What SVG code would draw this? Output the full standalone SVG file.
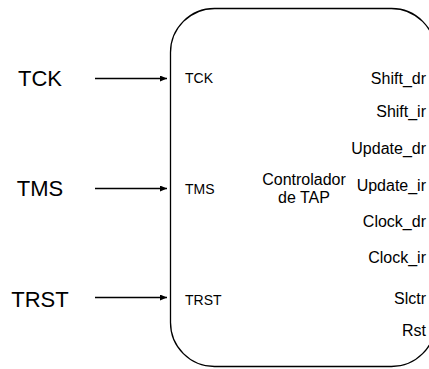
<svg xmlns="http://www.w3.org/2000/svg" width="429" height="369" viewBox="0 0 429 369">
  <style>
    text { font-family: "Liberation Sans", Arial, sans-serif; fill: #000; }
    .big { font-size: 22px; text-anchor: middle; }
    .port { font-size: 14px; }
    .out { font-size: 16px; text-anchor: end; }
    .title { font-size: 16px; text-anchor: middle; }
    .wire { stroke: #000; stroke-width: 1.3; fill: none; marker-end: url(#arrow); }
    .block { fill: #fff; stroke: #000; stroke-width: 1.3; }
  </style>
  <defs>
    <marker id="arrow" markerWidth="8" markerHeight="6" refX="7" refY="3" orient="auto" markerUnits="userSpaceOnUse">
      <path d="M0,0 L7,3 L0,6 Z" fill="#000"/>
    </marker>
  </defs>

  <!-- TAP controller block -->
  <g id="tap-controller">
    <rect class="block" x="170.5" y="8.5" width="265" height="358" rx="44" ry="44"/>
    <text class="title" x="304" y="185">Controlador</text>
    <text class="title" x="304" y="203">de TAP</text>
    <text class="port" x="185" y="83">TCK</text>
    <text class="port" x="185" y="193.5">TMS</text>
    <text class="port" x="185" y="305">TRST</text>
    <text class="out" x="426" y="84">Shift_dr</text>
    <text class="out" x="426" y="117">Shift_ir</text>
    <text class="out" x="426" y="154">Update_dr</text>
    <text class="out" x="426" y="191">Update_ir</text>
    <text class="out" x="426" y="227">Clock_dr</text>
    <text class="out" x="426" y="263">Clock_ir</text>
    <text class="out" x="426" y="304">Slctr</text>
    <text class="out" x="426" y="336">Rst</text>
  </g>

  <!-- external input signals -->
  <g id="in-tck"><text class="big" x="40" y="86">TCK</text></g>
  <g id="in-tms"><text class="big" x="40" y="196">TMS</text></g>
  <g id="in-trst"><text class="big" x="40" y="306.5">TRST</text></g>

  <!-- connectors -->
  <g id="connectors">
    <line class="wire" x1="95" y1="78.5" x2="167" y2="78.5"/>
    <line class="wire" x1="95" y1="188.5" x2="167" y2="188.5"/>
    <line class="wire" x1="95" y1="297.5" x2="167" y2="297.5"/>
  </g>
</svg>
